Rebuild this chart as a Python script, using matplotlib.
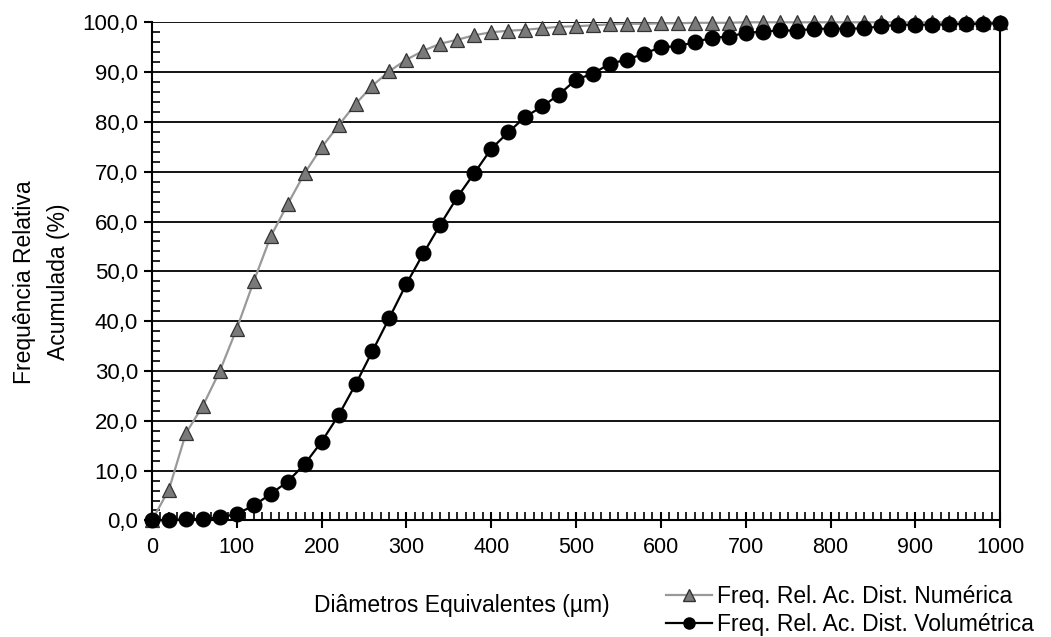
import matplotlib
matplotlib.use("Agg")
import matplotlib.pyplot as plt
from matplotlib.ticker import MultipleLocator, FuncFormatter
from matplotlib.lines import Line2D

plt.rcParams['font.family'] = ['Liberation Sans', 'DejaVu Sans']

# diametros equivalentes (um), passo de 20
diam = list(range(0, 1001, 20))

# frequencia relativa acumulada - distribuicao numerica (%)
freq_num = [0.0, 6.2, 17.5, 23.0, 30.0, 38.5, 48.0, 57.0, 63.5, 69.7,
            74.9, 79.3, 83.6, 87.3, 90.2, 92.5, 94.3, 95.7, 96.5, 97.4,
            98.0, 98.3, 98.5, 98.8, 99.1, 99.2, 99.4, 99.6, 99.7, 99.7,
            99.8, 99.8, 99.9, 99.9, 99.9, 100.0, 100.0, 100.0, 100.0, 100.0,
            100.0, 100.0, 100.0, 100.0, 100.0, 100.0, 100.0, 100.0, 100.0, 100.0,
            100.0]

# frequencia relativa acumulada - distribuicao volumetrica (%)
freq_vol = [0.0, 0.1, 0.2, 0.3, 0.6, 1.3, 3.0, 5.3, 7.8, 11.3,
            15.8, 21.1, 27.3, 34.0, 40.7, 47.5, 53.6, 59.4, 64.9, 69.7,
            74.6, 77.9, 81.0, 83.1, 85.5, 88.5, 89.7, 91.7, 92.5, 93.7,
            95.0, 95.2, 96.0, 96.9, 97.1, 97.9, 98.1, 98.4, 98.3, 98.7,
            98.7, 98.7, 98.8, 99.2, 99.5, 99.5, 99.5, 99.6, 99.7, 99.7,
            99.8]

fig = plt.figure(figsize=(10.51, 6.37), dpi=100)
ax = fig.add_axes([0.1446, 0.183, 0.807, 0.782])

ax.grid(True, axis='y', color='black', linewidth=1.3, zorder=0)

ax.plot(diam, freq_num, color='#999999', linewidth=1.6, marker='^',
        markersize=10, markerfacecolor='#7a7a7a', markeredgecolor='#333333',
        markeredgewidth=0.9, zorder=3, clip_on=False)
ax.plot(diam, freq_vol, color='black', linewidth=1.6, marker='o',
        markersize=10.5, markerfacecolor='black', markeredgecolor='black',
        zorder=4, clip_on=False)

ax.set_xlim(0, 1000)
ax.set_ylim(0, 100)
ax.xaxis.set_major_locator(MultipleLocator(100))
ax.xaxis.set_minor_locator(MultipleLocator(10))
ax.yaxis.set_major_locator(MultipleLocator(10))
ax.yaxis.set_minor_locator(MultipleLocator(2))
ax.yaxis.set_major_formatter(FuncFormatter(lambda v, p: f"{v:.1f}".replace('.', ',')))

ax.tick_params(axis='x', which='major', direction='inout', length=12, width=1.5,
               labelsize=15.5, pad=6)
ax.tick_params(axis='x', which='minor', direction='in', length=6, width=1.2)
ax.tick_params(axis='y', which='major', direction='out', length=6, width=1.5,
               labelsize=16, pad=4)
ax.tick_params(axis='y', which='minor', direction='in', length=6, width=1.2)

for s in ax.spines.values():
    s.set_linewidth(1.5)
    s.set_color('black')
ax.spines['top'].set_visible(False)

fig.text(0.023, 0.557, "Frequência Relativa", rotation=90, fontsize=16.5,
         ha='center', va='center')
fig.text(0.056, 0.557, "Acumulada (%)", rotation=90, fontsize=16.5,
         ha='center', va='center')
fig.text(0.439, 0.050, "Diâmetros Equivalentes (µm)", fontsize=16.5,
         ha='center', va='center')

handles = [
    Line2D([], [], color='#999999', linewidth=1.6, marker='^', markersize=8,
           markerfacecolor='#7a7a7a', markeredgecolor='#333333'),
    Line2D([], [], color='black', linewidth=1.6, marker='o', markersize=8,
           markerfacecolor='black'),
]
fig.legend(handles, ["Freq. Rel. Ac. Dist. Numérica", "Freq. Rel. Ac. Dist. Volumétrica"],
           loc='center left', bbox_to_anchor=(0.634, 0.042), frameon=False,
           fontsize=16.5, handlelength=2.0, handletextpad=0.2, labelspacing=0.2,
           borderpad=0, borderaxespad=0)

fig.savefig("out.png", dpi=100)
